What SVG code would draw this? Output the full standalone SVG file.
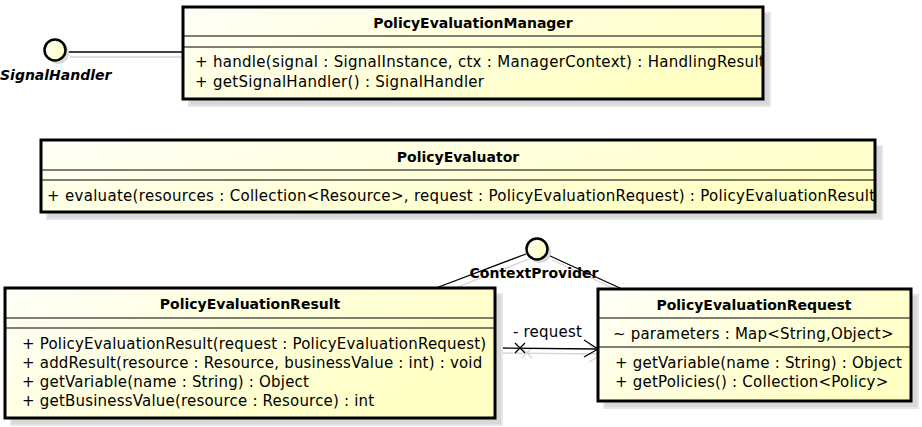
<svg xmlns="http://www.w3.org/2000/svg" width="922" height="427" viewBox="0 0 922 427">
<defs>
<linearGradient id="g" x1="0" y1="0" x2="1" y2="0.5">
<stop offset="0" stop-color="#fffff8"/>
<stop offset="1" stop-color="#ffffc4"/>
</linearGradient>
<clipPath id="cm"><rect x="184" y="8" width="578" height="90"/></clipPath>
<clipPath id="ce"><rect x="42" y="141" width="832" height="70"/></clipPath>
<style>
.box{fill:url(#g);stroke:#000;stroke-width:3}
.sep{stroke:#000;stroke-width:1.2}
.sh{fill:#d8d8d8;stroke:#e6e6e6;stroke-width:2}
.t{font-family:"DejaVu Sans",sans-serif;font-size:15px;letter-spacing:0.2px;fill:#000}
.w{letter-spacing:0.3px}
.b{font-weight:bold;font-size:14px;letter-spacing:0}
.m{text-anchor:middle}
.conn{stroke:#000;stroke-width:1.3;fill:none}
.csh{stroke:#d4d4d4;stroke-width:1.3;fill:none}
.iface{fill:url(#g);stroke:#000;stroke-width:2.5}
.ish{fill:#dadada}
</style>
</defs>
<rect width="922" height="427" fill="#fff"/>

<g id="connectors">
<line class="csh" x1="70" y1="57" x2="183" y2="57"/>
<line class="conn" x1="66" y1="52" x2="183" y2="52"/>
<line class="csh" x1="529" y1="259" x2="440" y2="294"/>
<line class="csh" x1="552" y1="260" x2="626" y2="294"/>
<line class="conn" x1="526" y1="254" x2="436" y2="288"/>
<line class="conn" x1="548" y1="255" x2="622" y2="289"/>
<g class="csh">
<line x1="502" y1="353" x2="603" y2="354"/>
<path d="M522 348 L532 358 M522 358 L532 348"/>
<path d="M589 345 L603 354 L589 362"/>
</g>
<g class="conn">
<line x1="497" y1="348" x2="598" y2="349"/>
<path d="M515 343 L525 353 M515 353 L525 343"/>
<path d="M584 340 L598 349 L584 357"/>
</g>
<text class="t" x="513" y="337">- request</text>
</g>

<g id="SignalHandler">
<circle class="ish" cx="58" cy="53" r="11"/>
<circle class="iface" cx="55" cy="50" r="10.5"/>
<text class="t b" x="0" y="80" font-style="italic">SignalHandler</text>
</g>

<g id="ContextProvider">
<circle class="ish" cx="540" cy="252" r="11"/>
<circle class="iface" cx="537" cy="249" r="10.5"/>
<text class="t b m" x="534" y="278">ContextProvider</text>
</g>

<g id="PolicyEvaluationManager">
<rect class="sh" x="189" y="13" width="581" height="93"/>
<rect class="box" x="183" y="7" width="580" height="92"/>
<line class="sep" x1="183" y1="36" x2="763" y2="36"/>
<line class="sep" x1="183" y1="47" x2="763" y2="47"/>
<text class="t b m" x="473" y="28">PolicyEvaluationManager</text>
<g clip-path="url(#cm)">
<text class="t w" x="195" y="67">+ handle(signal : SignalInstance, ctx : ManagerContext) : HandlingResult</text>
<text class="t w" x="195" y="87">+ getSignalHandler() : SignalHandler</text>
</g>
</g>

<g id="PolicyEvaluator">
<rect class="sh" x="47" y="146" width="835" height="73"/>
<rect class="box" x="41" y="140" width="834" height="72"/>
<line class="sep" x1="41" y1="170" x2="875" y2="170"/>
<line class="sep" x1="41" y1="180" x2="875" y2="180"/>
<text class="t b m" x="458" y="162">PolicyEvaluator</text>
<g clip-path="url(#ce)">
<text class="t w" x="47" y="201">+ evaluate(resources : Collection&lt;Resource&gt;, request : PolicyEvaluationRequest) : PolicyEvaluationResult</text>
</g>
</g>

<g id="PolicyEvaluationResult">
<rect class="sh" x="11" y="294" width="491" height="131"/>
<rect class="box" x="5" y="288" width="490" height="130"/>
<line class="sep" x1="5" y1="318" x2="495" y2="318"/>
<line class="sep" x1="5" y1="328" x2="495" y2="328"/>
<text class="t b m" x="250" y="309">PolicyEvaluationResult</text>
<text class="t" x="22" y="349">+ PolicyEvaluationResult(request : PolicyEvaluationRequest)</text>
<text class="t" x="22" y="368">+ addResult(resource : Resource, businessValue : int) : void</text>
<text class="t" x="22" y="387">+ getVariable(name : String) : Object</text>
<text class="t" x="22" y="406">+ getBusinessValue(resource : Resource) : int</text>
</g>

<g id="PolicyEvaluationRequest">
<rect class="sh" x="604" y="295" width="314" height="113"/>
<rect class="box" x="598" y="289" width="313" height="112"/>
<line class="sep" x1="598" y1="318" x2="911" y2="318"/>
<line class="sep" x1="598" y1="347" x2="911" y2="347"/>
<text class="t b m" x="754" y="310">PolicyEvaluationRequest</text>
<text class="t" x="613" y="339">~ parameters : Map&lt;String,Object&gt;</text>
<text class="t" x="615" y="368">+ getVariable(name : String) : Object</text>
<text class="t" x="615" y="387">+ getPolicies() : Collection&lt;Policy&gt;</text>
</g>
</svg>
